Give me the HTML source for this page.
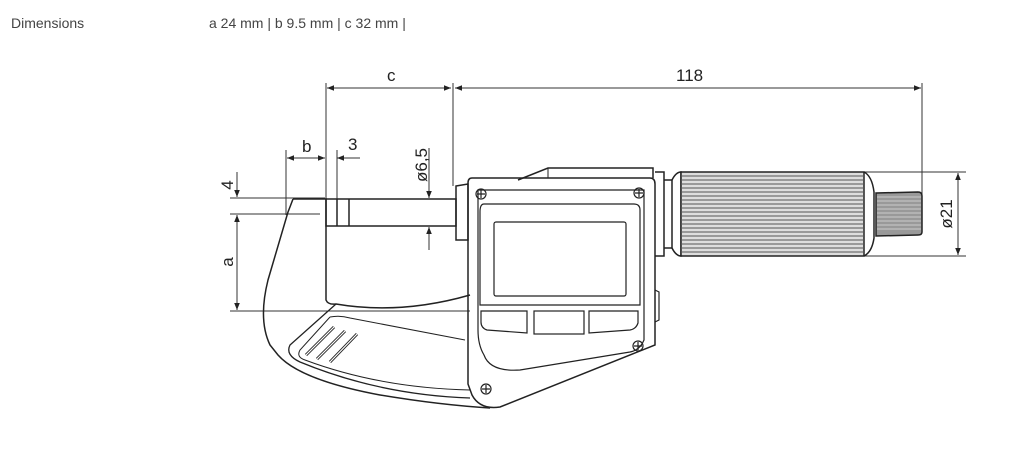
<!DOCTYPE html>
<html><head><meta charset="utf-8"><style>
body{margin:0;background:#fff;width:1023px;height:453px;overflow:hidden;font-family:"Liberation Sans",sans-serif;}
.t{position:absolute;font-size:14px;color:#444;top:15px}
</style></head><body>
<div class="t" style="left:11px">Dimensions</div>
<div class="t" style="left:209px">a 24 mm | b 9.5 mm | c 32 mm |</div>
<svg width="1023" height="453" style="position:absolute;left:0;top:0" xmlns="http://www.w3.org/2000/svg">
<defs>
<marker id="ar" viewBox="0 0 10 10" refX="10" refY="5" markerWidth="9" markerHeight="7" orient="auto-start-reverse"><path d="M0,1 L10,5 L0,9 z" fill="#222"/></marker>
</defs>
<g stroke="#333" stroke-width="1" fill="none">
<line x1="326" y1="83" x2="326" y2="199"/>
<line x1="453" y1="83" x2="453" y2="186"/>
<line x1="922" y1="83" x2="922" y2="194"/>
<line x1="327" y1="88" x2="451" y2="88" marker-start="url(#ar)" marker-end="url(#ar)"/>
<line x1="455" y1="88" x2="921" y2="88" marker-start="url(#ar)" marker-end="url(#ar)"/>
<line x1="286" y1="150" x2="286" y2="215"/>
<line x1="337" y1="150" x2="337" y2="199"/>
<line x1="287" y1="158" x2="325" y2="158" marker-start="url(#ar)" marker-end="url(#ar)"/>
<line x1="337" y1="158" x2="360" y2="158" marker-start="url(#ar)"/>
<line x1="230" y1="198" x2="325" y2="198"/>
<line x1="230" y1="214" x2="320" y2="214"/>
<line x1="230" y1="311" x2="470" y2="311"/>
<line x1="237" y1="172" x2="237" y2="197" marker-end="url(#ar)"/>
<line x1="237" y1="215" x2="237" y2="310" marker-start="url(#ar)" marker-end="url(#ar)"/>
<line x1="429" y1="148" x2="429" y2="198" marker-end="url(#ar)"/>
<line x1="429" y1="250" x2="429" y2="227" marker-end="url(#ar)"/>
<line x1="864" y1="172" x2="966" y2="172"/>
<line x1="864" y1="256" x2="966" y2="256"/>
<line x1="958" y1="173" x2="958" y2="255" marker-start="url(#ar)" marker-end="url(#ar)"/>
</g>
<g fill="#222" font-family="Liberation Sans, sans-serif" font-size="17">
<text x="387" y="81">c</text>
<text x="676" y="81">118</text>
<text x="302" y="152">b</text>
<text x="348" y="150">3</text>
<text transform="translate(233,185) rotate(-90)" text-anchor="middle">4</text>
<text transform="translate(233,262) rotate(-90)" text-anchor="middle">a</text>
<text transform="translate(427,165) rotate(-90)" text-anchor="middle">ø6,5</text>
<text transform="translate(952,214) rotate(-90)" text-anchor="middle">ø21</text>
</g>
<g stroke="#222" fill="none" stroke-width="1.5">
<path d="M293,199 L326,199 L326,300 Q328,305 336,304 Q400,315 470,295"/>
<path d="M293,199 Q290,207 288,212 L268,280 Q258,320 270,345 L278,355 Q300,380 380,395 Q440,405 490,408"/>
<path d="M336,304 L290,345 Q285,355 300,362 Q380,395 470,398" stroke-width="1.3"/>
<path d="M330,317 Q340,315 350,318 L465,340" stroke-width="1"/>
<path d="M330,317 L300,350 Q296,357 305,360 Q380,388 470,390" stroke-width="1"/>
<g stroke-width="3"><path d="M334,327 L306,355"/><path d="M345,331 L317,359"/><path d="M357,334 L330,362"/></g>
<g stroke="#fff" stroke-width="1.2"><path d="M334,327 L306,355"/><path d="M345,331 L317,359"/><path d="M357,334 L330,362"/></g>
<rect x="326" y="199" width="130" height="27"/>
<line x1="337" y1="199" x2="337" y2="226"/>
<line x1="349" y1="199" x2="349" y2="226"/>
<path d="M456,186 L468,184 L468,240 L456,240 Z"/>
<path d="M518,180 L548,168 L653,168 L653,178"/>
<line x1="548" y1="168" x2="548" y2="178" stroke-width="1"/>
<path d="M472,178 L650,178 Q655,178 655,184 L655,345 L500,407 Q480,410 472,395 L468,384 L468,183 Q468,178 472,178 Z"/>
<path d="M478,190 L644,190 L644,340 Q640,350 630,352 L520,370 Q490,372 484,355 Q478,345 478,330 Z" stroke-width="1.2"/>
<path d="M484,204 Q480,204 480,212 L480,305 L640,305 L640,210 Q640,204 634,204 Z" stroke-width="1.2"/>
<rect x="494" y="222" width="132" height="74" rx="2" stroke-width="1.2"/>
<path d="M481,311 L527,311 L527,333 L487,330 Q481,328 481,322 Z" stroke-width="1.2"/>
<rect x="534" y="311" width="50" height="23" stroke-width="1.2"/>
<path d="M589,311 L638,311 L638,323 Q636,329 630,330 L589,333 Z" stroke-width="1.2"/>
<path d="M655,290 L659,292 L659,320 L655,322" stroke-width="1.2"/>
<g stroke-width="1.2">
<circle cx="481" cy="194" r="5"/><path d="M477,194h8M481,190v8"/>
<circle cx="639" cy="193" r="5"/><path d="M635,193h8M639,189v8"/>
<circle cx="638" cy="346" r="5"/><path d="M634,346h8M638,342v8"/>
<circle cx="486" cy="389" r="5"/><path d="M482,389h8M486,385v8"/>
</g>
<path d="M655,172 L664,172 L664,256 L655,256"/>
<path d="M664,180 L672,180 L672,248 L664,248"/>
<path d="M672,180 Q676,172 681,172 L681,256 Q676,256 672,248"/>
<rect x="681" y="172" width="183" height="84" fill="#ddd"/>
<path d="M864,172 Q872,176 874,192 L874,238 Q872,252 864,256"/>
<path d="M876,193 L918,192 Q922,192 922,196 L922,232 Q922,235 918,235 L876,236 Z" fill="#999"/>
</g>
<g stroke="#555" stroke-width="1">
<path d="M681,176h183M681,180h183M681,184h183M681,188h183M681,192h183M681,196h183M681,200h183M681,204h183M681,208h183M681,212h183M681,216h183M681,220h183M681,224h183M681,228h183M681,232h183M681,236h183M681,240h183M681,244h183M681,248h183M681,252h183"/>
<path d="M877,197h44M877,201h44M877,205h44M877,209h44M877,213h44M877,217h44M877,221h44M877,225h44M877,229h44" stroke="#ccc"/>
</g>
</svg>
</body></html>
